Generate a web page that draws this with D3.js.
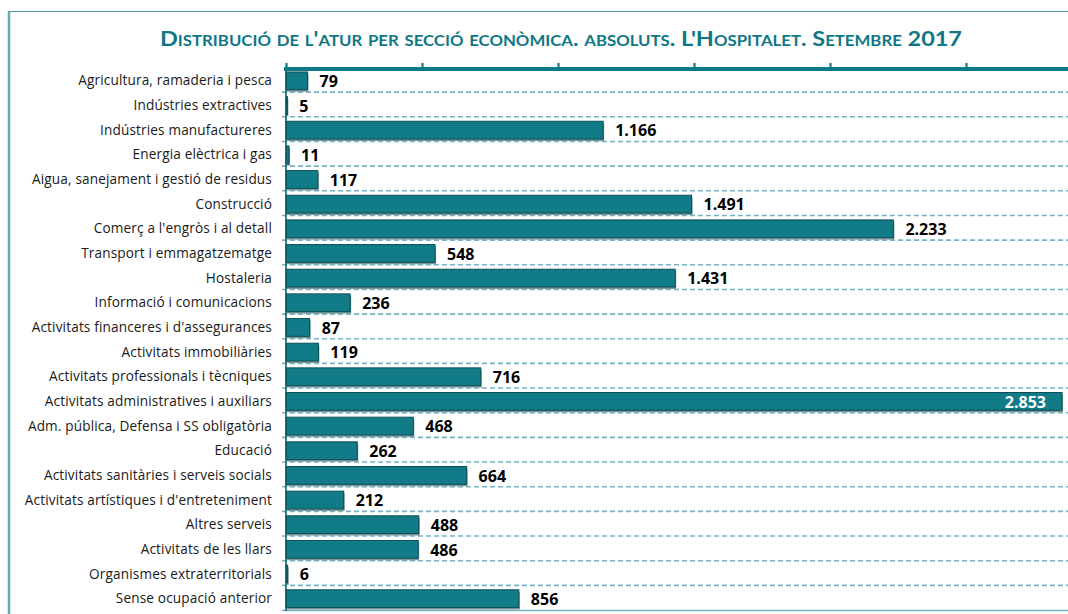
<!DOCTYPE html>
<html>
<head>
<meta charset="utf-8">
<script src="https://cdn.jsdelivr.net/npm/d3@7"></script>
<style>
  body { margin: 0; background: #fff; }
  svg { display: block; }
</style>
</head>
<body>
<div id="chart"></div>
<script>

var categories = [
  "Agricultura, ramaderia i pesca",
  "Indústries extractives",
  "Indústries manufactureres",
  "Energia elèctrica i gas",
  "Aigua, sanejament i gestió de residus",
  "Construcció",
  "Comerç a l'engròs i al detall",
  "Transport i emmagatzematge",
  "Hostaleria",
  "Informació i comunicacions",
  "Activitats financeres i d'assegurances",
  "Activitats immobiliàries",
  "Activitats professionals i tècniques",
  "Activitats administratives i auxiliars",
  "Adm. pública, Defensa i SS obligatòria",
  "Educació",
  "Activitats sanitàries i serveis socials",
  "Activitats artístiques i d'entreteniment",
  "Altres serveis",
  "Activitats de les llars",
  "Organismes extraterritorials",
  "Sense ocupació anterior"
];

var values = [79, 5, 1166, 11, 117, 1491, 2233, 548, 1431, 236, 87, 119,
              716, 2853, 468, 262, 664, 212, 488, 486, 6, 856];

var xTicks = [0, 500, 1000, 1500, 2000, 2500, 3000];

var title = "Distribució de l'atur per secció econòmica.  absoluts. L'Hospitalet.  Setembre 2017";

var W = 1068, H = 614;
var teal = "#0f7785";

var svg = d3.select("#chart").append("svg")
  .attr("width", W).attr("height", H);

// outer frame (top + left border)
svg.append("line").attr("x1", 9).attr("x2", W).attr("y1", 11.5).attr("y2", 11.5)
   .attr("stroke", "#4f9aa8").attr("stroke-width", 1.2);
svg.append("line").attr("x1", 9).attr("x2", 9).attr("y1", 11).attr("y2", H)
   .attr("stroke", "#6aaab6").attr("stroke-width", 2.5);

svg.append("text")
   .attr("x", 561).attr("y", 46)
   .attr("text-anchor", "middle")
   .attr("textLength", 802).attr("lengthAdjust", "spacingAndGlyphs")
   .style("font-family", "Lato, 'Open Sans', sans-serif")
   .style("font-weight", "bold")
   .style("font-variant", "small-caps")
   .style("font-size", "21px")
   .style("fill", teal)
   .text(title);

var x = d3.scaleLinear().domain([0, 3000]).range([286, 1102]);
var y = d3.scaleBand().domain(categories).range([68.5, 611]).paddingInner(0.28).paddingOuter(0.14);
var step = y.step();

// dashed row separators
svg.append("g").selectAll("line")
   .data(categories.slice(1))
   .enter().append("line")
   .attr("x1", 282).attr("x2", W)
   .attr("y1", function(d) { return y(d) - step * 0.14 - 1; })
   .attr("y2", function(d) { return y(d) - step * 0.14 - 1; })
   .attr("stroke", "#77b3c2").attr("stroke-width", 1.6)
   .attr("stroke-dasharray", "5,3");

// bottom line
svg.append("line").attr("x1", 282).attr("x2", W).attr("y1", 610.5).attr("y2", 610.5)
   .attr("stroke", "#77b3c2").attr("stroke-width", 1.4);

// bars: shadow + body
var bars = svg.append("g").selectAll("g")
   .data(values)
   .enter().append("g");

bars.append("rect")
   .attr("x", x(0) + 1)
   .attr("y", function(d, i) { return y(categories[i]) + 2; })
   .attr("width", function(d) { return Math.max(0, x(d) - x(0)); })
   .attr("height", y.bandwidth())
   .attr("fill", "#7c9599");

bars.append("rect")
   .attr("x", x(0))
   .attr("y", function(d, i) { return y(categories[i]); })
   .attr("width", function(d) { return x(d) - x(0); })
   .attr("height", y.bandwidth())
   .attr("fill", "#117c88")
   .attr("stroke", "#0b4e57").attr("stroke-width", 1);

// left axis line
svg.append("line").attr("x1", 286).attr("x2", 286).attr("y1", 68).attr("y2", 611)
   .attr("stroke", "#0d5560").attr("stroke-width", 1.5);

// top axis
var xAxis = d3.axisTop(x).tickValues(xTicks).tickSize(5).tickFormat("");
var gx = svg.append("g").attr("transform", "translate(0,68)").call(xAxis);
gx.select(".domain").remove();
gx.selectAll(".tick line").attr("stroke", teal).attr("stroke-width", 2.2);
svg.append("line").attr("x1", 284).attr("x2", W).attr("y1", 69).attr("y2", 69)
   .attr("stroke", teal).attr("stroke-width", 4);

// category labels
svg.append("g").selectAll("text")
   .data(categories)
   .enter().append("text")
   .attr("x", 272)
   .attr("y", function(d) { return y(d) + y.bandwidth() / 2 + 1; })
   .attr("text-anchor", "end")
   .attr("dominant-baseline", "middle")
   .style("font-family", "'Open Sans', sans-serif")
   .style("font-size", "13.6px")
   .style("letter-spacing", "0.15px")
   .style("fill", "#1a1a1a")
   .text(function(d) { return d; });

// value labels
var fmt = d3.formatLocale({ decimal: ",", thousands: ".", grouping: [3], currency: ["", "€"] }).format(",d");

svg.append("g").selectAll("text")
   .data(values)
   .enter().append("text")
   .attr("x", function(d) { return d > 2500 ? x(d) - 16 : x(d) + 12; })
   .attr("y", function(d, i) { return y(categories[i]) + y.bandwidth() / 2 + 2; })
   .attr("text-anchor", function(d) { return d > 2500 ? "end" : "start"; })
   .attr("dominant-baseline", "middle")
   .style("font-family", "'Open Sans', sans-serif")
   .style("font-weight", "bold")
   .style("font-size", "16px")
   .style("fill", function(d) { return d > 2500 ? "#fff" : "#000"; })
   .text(function(d) { return fmt(d); });

</script>
</body>
</html>
